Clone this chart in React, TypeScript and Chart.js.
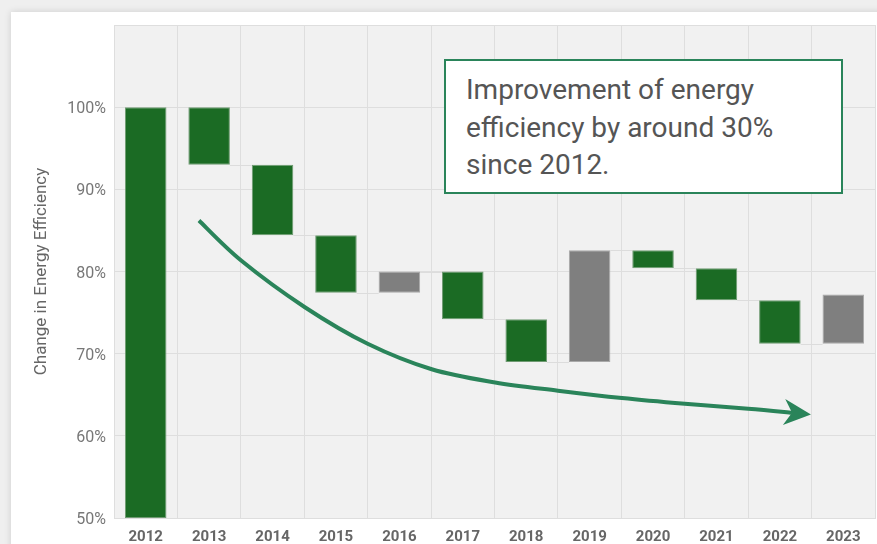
import React, { useEffect, useRef } from 'react';
import { Chart, registerables } from 'chart.js';

Chart.register(...registerables);

const years = ['2012', '2013', '2014', '2015', '2016', '2017', '2018', '2019', '2020', '2021', '2022', '2023'];
const barStart = [50, 100, 93.0, 84.4, 77.4, 80.0, 74.2, 69.0, 82.6, 80.4, 76.5, 71.2];
const barEnd = [100, 93.0, 84.4, 77.4, 80.0, 74.2, 69.0, 82.6, 80.4, 76.5, 71.2, 77.2];
const yTicks = [50, 60, 70, 80, 90, 100];

// trend arrow path, in data units (category index, percent)
const arrowX = [0.84, 1.51, 2.51, 3.5, 4.51, 5.51, 6.5, 7.51, 8.5, 9.5, 10.49];
const arrowY = [86.2, 81.3, 75.65, 71.2, 68.1, 66.5, 65.5, 64.6, 63.9, 63.3, 62.6];

const GREEN = '#1b6b24';
const GRAY = '#7f7f7f';
const ARROW = '#2a845a';

const plotBg = {
  id: 'plotBg',
  beforeDraw(chart: any) {
    const { ctx, chartArea } = chart;
    ctx.save();
    ctx.fillStyle = '#f1f1f1';
    ctx.fillRect(chartArea.left, chartArea.top, chartArea.right - chartArea.left, chartArea.bottom - chartArea.top);
    ctx.restore();
  },
};

const connectors = {
  id: 'connectors',
  beforeDatasetsDraw(chart: any) {
    const { ctx } = chart;
    const meta = chart.getDatasetMeta(0);
    const y = chart.scales.y;
    ctx.save();
    ctx.strokeStyle = '#dcdcdc';
    ctx.lineWidth = 1;
    for (let i = 0; i < meta.data.length - 1; i++) {
      const a = meta.data[i];
      const b = meta.data[i + 1];
      const py = Math.round(y.getPixelForValue(barEnd[i])) + 0.5;
      ctx.beginPath();
      ctx.moveTo(a.x + a.width / 2, py);
      ctx.lineTo(b.x - b.width / 2, py);
      ctx.stroke();
    }
    ctx.restore();
  },
};

const trendArrow = {
  id: 'trendArrow',
  afterDatasetsDraw(chart: any) {
    const { ctx } = chart;
    const xs = chart.scales.x;
    const ys = chart.scales.y;
    const pts = arrowX.map((v, i) => ({ x: xs.getPixelForValue(v), y: ys.getPixelForValue(arrowY[i]) }));
    const n = pts.length;
    const tip = pts[n - 1];
    const prev = pts[n - 2];
    const ang = Math.atan2(tip.y - prev.y, tip.x - prev.x);
    const len = 27;
    const half = 13;
    const notch = 19;
    const endPt = { x: tip.x - Math.cos(ang) * notch, y: tip.y - Math.sin(ang) * notch };
    const path = pts.slice(0, n - 1).concat([endPt]);
    ctx.save();
    ctx.strokeStyle = ARROW;
    ctx.fillStyle = ARROW;
    ctx.lineWidth = 4;
    ctx.lineCap = 'butt';
    ctx.lineJoin = 'round';
    ctx.beginPath();
    ctx.moveTo(path[0].x, path[0].y);
    for (let i = 0; i < path.length - 1; i++) {
      const p0 = path[Math.max(0, i - 1)];
      const p1 = path[i];
      const p2 = path[i + 1];
      const p3 = path[Math.min(path.length - 1, i + 2)];
      const c1x = p1.x + (p2.x - p0.x) / 6;
      const c1y = p1.y + (p2.y - p0.y) / 6;
      const c2x = p2.x - (p3.x - p1.x) / 6;
      const c2y = p2.y - (p3.y - p1.y) / 6;
      ctx.bezierCurveTo(c1x, c1y, c2x, c2y, p2.x, p2.y);
    }
    ctx.stroke();
    const bx = tip.x - Math.cos(ang) * len;
    const by = tip.y - Math.sin(ang) * len;
    const nx = -Math.sin(ang);
    const ny = Math.cos(ang);
    ctx.beginPath();
    ctx.moveTo(tip.x, tip.y);
    ctx.lineTo(bx + nx * half, by + ny * half);
    ctx.lineTo(tip.x - Math.cos(ang) * notch, tip.y - Math.sin(ang) * notch);
    ctx.lineTo(bx - nx * half, by - ny * half);
    ctx.closePath();
    ctx.fill();
    ctx.restore();
  },
};

export default function App() {
  const canvasRef = useRef<HTMLCanvasElement | null>(null);

  useEffect(() => {
    if (!canvasRef.current) return;
    const chart = new Chart(canvasRef.current, {
      type: 'bar',
      data: {
        labels: years,
        datasets: [
          {
            data: years.map((_, i) => [barStart[i], barEnd[i]]) as any,
            backgroundColor: years.map((_, i) => (barEnd[i] > barStart[i] && i > 0 ? GRAY : GREEN)),
            borderColor: years.map((_, i) => (barEnd[i] > barStart[i] && i > 0 ? '#a9a9a9' : '#6f9a72')),
            borderWidth: 1,
            borderSkipped: false,
            categoryPercentage: 1,
            barPercentage: 0.655,
          },
        ],
      },
      options: {
        responsive: false,
        animation: false,
        devicePixelRatio: 1,
        layout: { padding: { top: 25, right: 2, left: 0, bottom: 0 } },
        plugins: {
          legend: { display: false },
          tooltip: { enabled: false },
        },
        scales: {
          x: {
            grid: { color: '#dedede', drawTicks: false, offset: true },
            border: { color: '#dedede' },
            ticks: {
              color: '#666',
              padding: 10,
              font: { family: 'Roboto', size: 15, weight: 'bold' },
            },
            afterFit(s: any) {
              s.height = 26;
            },
          },
          y: {
            min: 50,
            max: 110,
            grid: { color: '#dedede', drawTicks: false },
            border: { color: '#dedede' },
            afterBuildTicks(s: any) {
              s.ticks = yTicks.concat([110]).map((v) => ({ value: v }));
            },
            ticks: {
              color: '#777',
              padding: 8,
              labelOffset: 2,
              font: { family: 'Roboto', size: 16 },
              callback: (v: any) => (yTicks.includes(Number(v)) ? v + '%' : ''),
            },
            title: {
              display: true,
              text: 'Change in Energy Efficiency',
              color: '#666',
              font: { family: 'Roboto', size: 17 },
              padding: { top: 32, bottom: 0 },
            },
            afterFit(s: any) {
              s.width = 114;
            },
          },
        },
      },
      plugins: [plotBg, connectors, trendArrow],
    });
    return () => chart.destroy();
  }, []);

  return (
    <div style={{ position: 'fixed', left: 0, top: 0, width: 877, height: 544, overflow: 'hidden', background: '#efefef' }}>
      <div
        style={{
          position: 'absolute',
          left: 11,
          top: 12,
          width: 920,
          height: 600,
          background: '#fff',
          boxShadow: '0 0 7px rgba(0,0,0,0.14)',
        }}
      />
      <canvas ref={canvasRef} width={877} height={544} style={{ position: 'absolute', left: 0, top: 0 }} />
      <div
        style={{
          position: 'absolute',
          left: 444,
          top: 59,
          width: 399,
          height: 135,
          boxSizing: 'border-box',
          border: `2px solid ${ARROW}`,
          background: '#fff',
          padding: '10px 0 0 20px',
          fontFamily: 'Roboto, sans-serif',
          fontSize: 28,
          lineHeight: '37.5px',
          color: '#555',
          whiteSpace: 'nowrap',
        }}
      >
        Improvement of energy
        <br />
        efficiency by around 30%
        <br />
        since 2012.
      </div>
    </div>
  );
}
